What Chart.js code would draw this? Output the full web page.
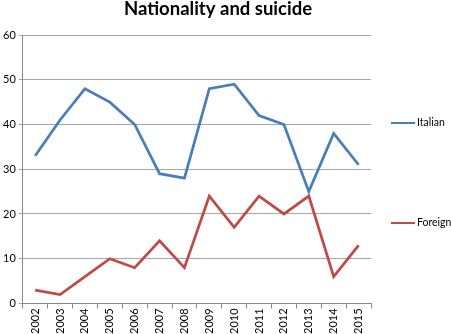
<!DOCTYPE html>
<html><head><meta charset="utf-8">
<script src="https://cdn.jsdelivr.net/npm/chart.js@4/dist/chart.umd.min.js"></script>
<style>html,body{margin:0;padding:0;background:#fff}#wrap{width:451px;height:334px}</style>
</head><body><div id="wrap"><canvas id="c" width="451" height="334"></canvas></div>
<script>
const years = ["2002","2003","2004","2005","2006","2007","2008","2009","2010","2011","2012","2013","2014","2015"];
const italian = [33,41,48,45,40,29,28,48,49,42,40,25,38,31];
const foreign = [3,2,6,10,8,14,8,24,17,24,20,24,6,13];
const yTicks = [0,10,20,30,40,50,60];
const titleText = 'Nationality and suicide';

const sidePlugin = {
  id: 'side',
  afterDraw(chart) {
    const ctx = chart.ctx;
    const ca = chart.chartArea;
    ctx.save();
    ctx.fillStyle = '#000';
    ctx.font = 'bold 18.5px Lato';
    ctx.textAlign = 'center';
    ctx.textBaseline = 'alphabetic';
    ctx.fillText(titleText, 218, 15);
    const ys = [123, 223];
    ctx.font = '10.5px Lato';
    ctx.textAlign = 'left';
    ctx.textBaseline = 'middle';
    chart.data.datasets.forEach((d, i) => {
      const y = ys[i];
      ctx.strokeStyle = d.borderColor;
      ctx.lineWidth = 2;
      ctx.beginPath();
      ctx.moveTo(ca.right + 20, y);
      ctx.lineTo(ca.right + 44, y);
      ctx.stroke();
      ctx.fillStyle = '#000';
      ctx.fillText(d.label, ca.right + 46, y);
    });
    ctx.restore();
  }
};

new Chart(document.getElementById('c'), {
  type: 'line',
  data: {
    labels: years,
    datasets: [
      {label: 'Italian', data: italian, borderColor: '#4A7EBB', backgroundColor: '#4A7EBB', borderWidth: 2.75, pointRadius: 0, tension: 0},
      {label: 'Foreign', data: foreign, borderColor: '#BE4B48', backgroundColor: '#BE4B48', borderWidth: 2.75, pointRadius: 0, tension: 0}
    ]
  },
  plugins: [sidePlugin],
  options: {
    responsive: false, animation: false, devicePixelRatio: 1,
    layout: {padding: {left: 0, right: 80, top: 35, bottom: 0}},
    plugins: {
      title: {display: false},
      legend: {display: false},
      tooltip: {enabled: false}
    },
    scales: {
      x: {
        offset: true,
        grid: {offset: true, drawOnChartArea: false, drawTicks: true, tickLength: 5, color: '#888'},
        border: {color: '#888'},
        ticks: {minRotation: 90, maxRotation: 90, color: '#000', font: {family: 'Lato', size: 11}, padding: 0}
      },
      y: {
        min: 0, max: 60,
        afterBuildTicks: (s) => { s.ticks = yTicks.map(v => ({value: v})); },
        grid: {color: '#a6a6a6', tickLength: 4, lineWidth: 1},
        border: {color: '#888'},
        ticks: {color: '#000', font: {family: 'Lato', size: 11}, padding: 3}
      }
    }
  }
});
</script></body></html>
